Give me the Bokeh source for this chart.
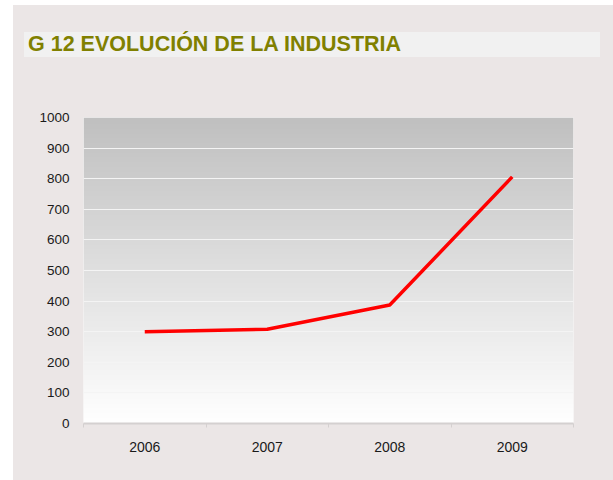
import numpy as np
from bokeh.plotting import figure
from bokeh.layouts import column
from bokeh.models import Div, FixedTicker, Range1d
from bokeh.embed import file_html
from bokeh.resources import INLINE

# data
title = "G 12 EVOLUCIÓN DE LA INDUSTRIA"
years = [2006, 2007, 2008, 2009]
year_labels = ["2006", "2007", "2008", "2009"]
industria = [300, 308, 387, 806]
y_ticks = [0, 100, 200, 300, 400, 500, 600, 700, 800, 900, 1000]

PANEL = "#EBE6E6"
FONT = "Liberation Sans"

x0, x1 = years[0] - 0.5, years[-1] + 0.5
y0, y1 = y_ticks[0], y_ticks[-1]

div = Div(
    text=(
        f'<div style="position:relative; top:27px; left:11px; width:576px; height:25px; '
        f'background:#F1F1F1; color:#808000; font-family:\'{FONT}\', Arial, sans-serif; '
        f'font-weight:bold; font-size:21.5px; line-height:25px; padding-left:4px; white-space:nowrap;">'
        f'{title}</div>'
    ),
    width=600, height=60,
    styles={"background-color": PANEL, "margin": "0", "padding": "0"},
)

p = figure(
    width=600, height=415,
    x_range=Range1d(x0, x1), y_range=Range1d(y0, y1),
    output_backend="svg", toolbar_location=None,
    min_border_left=70, min_border_right=40, min_border_top=52, min_border_bottom=57,
)
p.border_fill_color = PANEL
p.background_fill_color = "white"
p.outline_line_color = None

# vertical gradient background (grey at top to white at bottom)
n = 256
t = np.linspace(0.0, 1.0, n)  # bottom -> top
c = (255 - t * (255 - 192)).astype(np.uint32)
img = np.empty((n, 1), dtype=np.uint32)
view = img.view(dtype=np.uint8).reshape((n, 1, 4))
view[:, 0, 0] = c
view[:, 0, 1] = c
view[:, 0, 2] = c
view[:, 0, 3] = 255
p.image_rgba(image=[img], x=x0, y=y0, dw=x1 - x0, dh=y1 - y0, level="image")

p.line(years, industria, line_color="#FF0000", line_width=3.5)

# axes
p.xaxis.ticker = FixedTicker(ticks=years, minor_ticks=[y - 0.5 for y in years] + [years[-1] + 0.5])
p.xaxis.major_label_overrides = {yr: lab for yr, lab in zip(years, year_labels)}
p.xaxis.major_tick_line_color = None
p.xaxis.minor_tick_in = 0
p.xaxis.minor_tick_out = 4
p.xaxis.minor_tick_line_color = "#D4D0D0"
p.xaxis.axis_line_color = "#D4D0D0"
p.xaxis.axis_line_width = 2
p.xaxis.major_label_standoff = 12
p.xaxis.major_label_text_font = FONT
p.xaxis.major_label_text_font_size = "14px"
p.xaxis.major_label_text_color = "#1A1A1A"

p.yaxis.ticker = FixedTicker(ticks=y_ticks)
p.yaxis.axis_line_color = None
p.yaxis.major_tick_line_color = None
p.yaxis.minor_tick_line_color = None
p.yaxis.major_label_standoff = 8
p.yaxis.major_label_text_font = FONT
p.yaxis.major_label_text_font_size = "13.5px"
p.yaxis.major_label_text_color = "#1A1A1A"

p.xgrid.grid_line_color = None
p.ygrid.grid_line_color = "#F4F4F4"
p.ygrid.grid_line_width = 1

layout = column(div, p, spacing=0, margin=(5, 0, 0, 13),
                styles={"background-color": PANEL})

open("out.html", "w").write(file_html(layout, INLINE))
